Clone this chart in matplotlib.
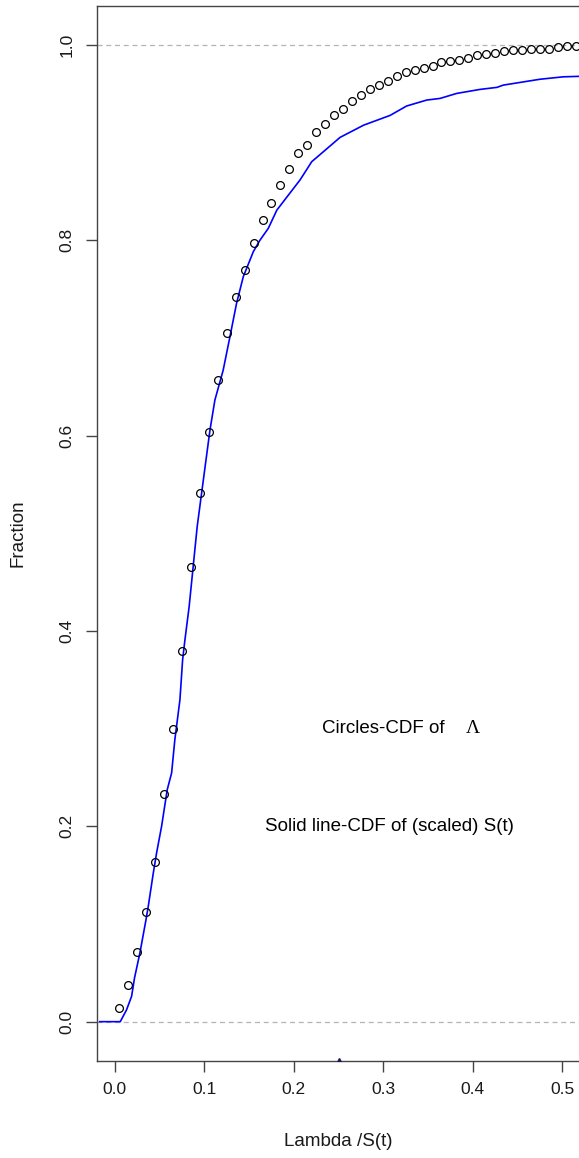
import numpy as np
import matplotlib
matplotlib.use("Agg")
import matplotlib.pyplot as plt

plt.rcParams['font.family'] = ['Liberation Sans', 'DejaVu Sans']

# CDF of Lambda, evaluated on bin midpoints (circles)
lam_x = np.arange(0.005, 0.52, 0.01)
lam_cdf = [0.0137, 0.038, 0.071, 0.112, 0.163, 0.233, 0.300, 0.380, 0.466, 0.541,
           0.6036, 0.657, 0.705, 0.742, 0.770, 0.797, 0.821, 0.838, 0.857, 0.873,
           0.889, 0.898, 0.9106, 0.919, 0.928, 0.935, 0.9427, 0.949, 0.955, 0.959,
           0.963, 0.968, 0.972, 0.974, 0.977, 0.979, 0.983, 0.984, 0.985, 0.987,
           0.990, 0.991, 0.992, 0.9935, 0.9945, 0.9945, 0.996, 0.996, 0.996, 0.998,
           0.999, 0.999]

# empirical CDF of scaled S(t) (solid line)
st_x = [-0.017, 0.006, 0.013, 0.0187, 0.022, 0.028, 0.0347, 0.0373, 0.0429, 0.0466,
        0.0522, 0.0585, 0.0634, 0.067, 0.0727, 0.0757, 0.0783, 0.083, 0.0875, 0.092,
        0.0969, 0.1018, 0.1063, 0.1118, 0.121, 0.1286, 0.136, 0.1435, 0.1547, 0.162,
        0.1715, 0.181, 0.194, 0.207, 0.220, 0.233, 0.2517, 0.278, 0.3076, 0.326,
        0.3485, 0.3635, 0.382, 0.408, 0.427, 0.434, 0.475, 0.501, 0.519, 0.53]
st_cdf = [0.0, 0.0, 0.012, 0.026, 0.045, 0.0705, 0.104, 0.118, 0.152, 0.1727,
          0.2, 0.2375, 0.2546, 0.2886, 0.3296, 0.3705, 0.391, 0.425, 0.466, 0.507,
          0.541, 0.575, 0.606, 0.6366, 0.667, 0.7014, 0.7356, 0.7628, 0.7884, 0.800,
          0.8124, 0.831, 0.8465, 0.862, 0.8806, 0.8908, 0.9055, 0.918, 0.928, 0.9376,
          0.9437, 0.9454, 0.9505, 0.9546, 0.9567, 0.959, 0.965, 0.9675, 0.968, 0.969]

ref_levels = [0.0, 1.0]
rug_x = [0.25]
xticks = [0.0, 0.1, 0.2, 0.3, 0.4, 0.5]
yticks = [0.0, 0.2, 0.4, 0.6, 0.8, 1.0]

fig = plt.figure(figsize=(5.79, 11.58), dpi=100)
ax = fig.add_axes([0.1675, 0.0840, 1.002 - 0.1675, 0.9948 - 0.0840])

for lv in ref_levels:
    ax.axhline(lv, color='#b4b4b4', lw=0.9, ls=(0, (4, 3)), zorder=1)

ax.plot(st_x, st_cdf, color='#0000ff', lw=1.2, zorder=2)
ax.plot(lam_x, lam_cdf, ls='none', marker='o', ms=5.6, mfc='none',
        mec='black', mew=0.9, zorder=3)

ax.set_xlim(-0.02, 0.52)
ax.set_ylim(-0.04, 1.04)
ax.plot(rug_x, [ax.get_ylim()[0]] * len(rug_x), ls='none', marker='^', ms=5,
        color='#1a1a50', zorder=4)

ax.text(0.3, 0.3, 'Circles-CDF of', ha='center', va='center', fontsize=13.5)
ax.text(0.4, 0.3, '\u039b', ha='center', va='center', fontsize=14,
        family=['Liberation Serif', 'DejaVu Serif'])
ax.text(0.307, 0.2, 'Solid line-CDF of (scaled) S(t)', ha='center', va='center',
        fontsize=13.5)

ax.set_xticks(xticks)
ax.set_yticks(yticks)
ax.set_xticklabels(['%.1f' % v for v in xticks])
ax.set_yticklabels(['%.1f' % v for v in yticks], rotation=90, va='center')
ax.tick_params(axis='both', length=8, width=1, color='#444444',
               labelsize=12.5, labelcolor='#1a1a1a')
ax.tick_params(axis='x', pad=7)
ax.tick_params(axis='y', pad=8)

for s in ax.spines.values():
    s.set_color('#444444')
    s.set_linewidth(1)

ax.set_xlabel('Lambda /S(t)', fontsize=13.5, color='#1a1a1a')
ax.set_ylabel('Fraction', fontsize=13.5, color='#1a1a1a')
ax.xaxis.set_label_coords(0.5, -0.0768)
ax.xaxis.label.set_va('center')
ax.yaxis.set_label_coords(-0.1636, 0.5)
ax.yaxis.label.set_va('center')

fig.savefig('out.png', dpi=100)
